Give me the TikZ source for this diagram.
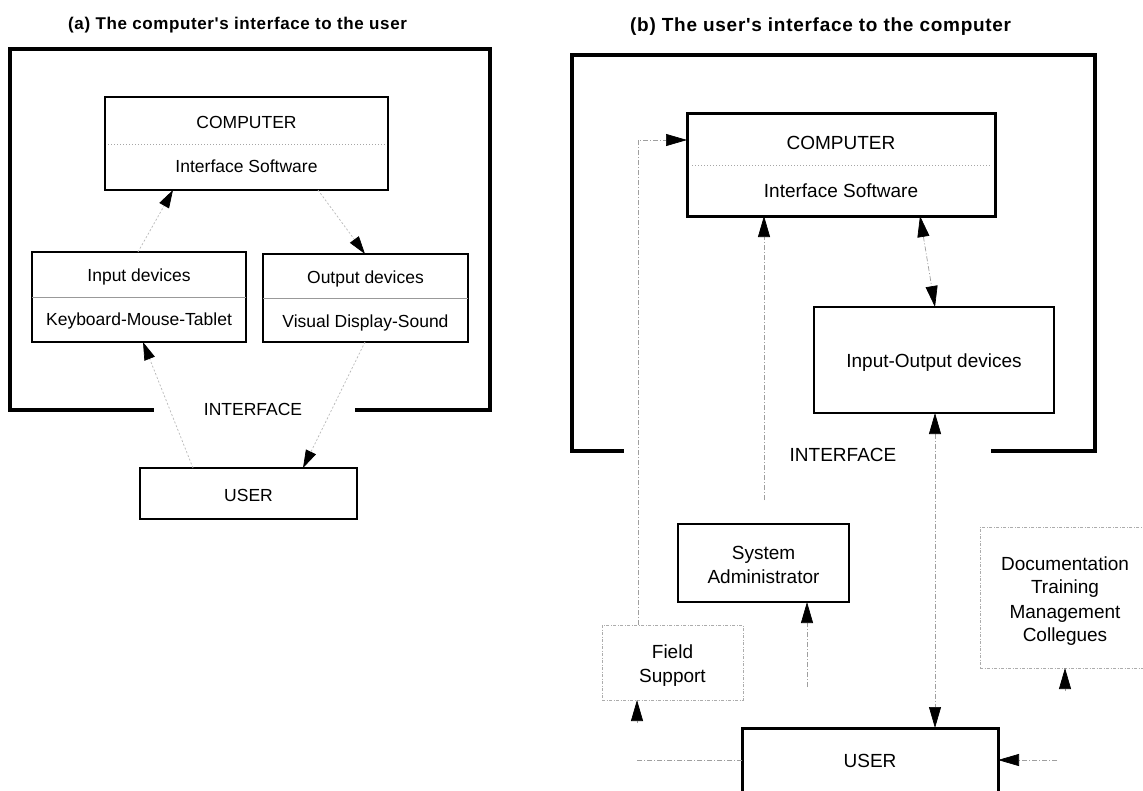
\documentclass[tikz,border=0pt]{standalone}
\usepackage{fontspec}
\setmainfont{Liberation Sans}
\newfontfamily\titlefonta[LetterSpace=3.6]{Liberation Sans}
\newfontfamily\titlefontb[LetterSpace=3.8]{Liberation Sans}
\usetikzlibrary{arrows.meta}
\begin{document}
\begin{tikzpicture}[x=1pt,y=-1pt,
  frame/.style={line width=3.8pt, line join=miter, line cap=rect},
  thickbox/.style={draw, line width=2.8pt, inner sep=0pt, outer sep=0pt},
  thinbox/.style={draw, line width=1.3pt, inner sep=0pt, outer sep=0pt},
  softbox/.style={draw=gray!65, line width=0.8pt, dash pattern=on 3pt off 1.5pt on 1pt off 1.5pt, inner sep=0pt, outer sep=0pt},
  fa/.style={font=\fontsize{17.5}{22}\selectfont, anchor=base, inner sep=0pt},
  fb/.style={font=\fontsize{19}{24}\selectfont, anchor=base, inner sep=0pt},
  ttl/.style={anchor=base west, inner sep=0pt},
  tipa/.style={-{Triangle[length=18pt,width=11pt,color=black]}},
  tipb/.style={-{Triangle[length=21pt,width=12pt,color=black]}},
  tipbb/.style={{Triangle[length=21pt,width=12pt,color=black]}-{Triangle[length=21pt,width=12pt,color=black]}},
  conna/.style={draw=gray!55, line width=0.7pt, dash pattern=on 2pt off 2pt},
  connb/.style={draw=gray!75, line width=0.7pt, dash pattern=on 5pt off 2pt on 1pt off 2pt},
  divdot/.style={draw=gray!70, line width=0.8pt, dash pattern=on 1pt off 2pt},
  divline/.style={draw=gray!80, line width=0.8pt}
]
\useasboundingbox (0,0) rectangle (1143,790);
\fill[white] (0,0) rectangle (1143,790);
\clip (0,0) rectangle (1143,790);

% ---------------- (a) ----------------
\node[ttl, font=\titlefonta\bfseries\fontsize{17}{20}\selectfont] (titleA) at (68,29) {(a) The computer's interface to the user};
\draw[frame] (152,410) -- (10,410) -- (10,49) -- (490,49) -- (490,410) -- (357,410);

\node[thickbox, minimum width=283pt, minimum height=93pt] (compA) at (246.5,143.5) {};
\draw[divdot] (108,144) -- (385,144);
\node[fa] (compAt) at (246.5,128.3) {COMPUTER};
\node[fa] (compAs) at (246.5,172.7) {Interface Software};

\node[thinbox, minimum width=214pt, minimum height=90pt] (inA) at (139,297) {};
\draw[divline] (32,297) -- (246,297);
\node[fa] (inAt) at (139,281.7) {Input devices};
\node[fa] (inAs) at (139,325.7) {Keyboard-Mouse-Tablet};

\node[thinbox, minimum width=205pt, minimum height=88pt] (outA) at (365.5,298) {};
\draw[divline] (263,298) -- (468,298);
\node[fa] (outAt) at (365.5,283) {Output devices};
\node[fa] (outAs) at (365.5,327) {Visual Display-Sound};

\node[fa] (ifA) at (253,415) {INTERFACE};

\node[thickbox, minimum width=217pt, minimum height=51pt] (userA) at (248.5,493.5) {};
\node[fa] (userAt) at (248.5,501.7) {USER};

\draw[conna, tipa] ([xshift=106pt]inA.north west) -- ([xshift=68pt]compA.south west);
\draw[conna, tipa] ([xshift=213pt]compA.south west) -- ([xshift=102pt]outA.north west);
\draw[conna, tipa] ([xshift=53pt]userA.north west) -- ([xshift=111pt]inA.south west);
\draw[conna, tipa] ([xshift=102pt]outA.south west) -- ([xshift=163pt]userA.north west);

% ---------------- (b) ----------------
\node[ttl, font=\titlefontb\bfseries\fontsize{19}{22}\selectfont] (titleB) at (630,31) {(b) The user's interface to the computer};
\draw[frame] (622,451) -- (572,451) -- (572,55) -- (1095,55) -- (1095,451) -- (993,451);

\node[thickbox, line width=3pt, minimum width=308pt, minimum height=103pt] (compB) at (841,164.5) {};
\draw[divdot] (692,165) -- (990,165);
\node[fb] (compBt) at (841,149.3) {COMPUTER};
\node[fb] (compBs) at (841,197.7) {Interface Software};

\node[thinbox, minimum width=240pt, minimum height=106pt] (ioB) at (934,360) {};
\node[fb] (ioBt) at (934,367) {Input-Output devices};

\node[fb] (ifB) at (843,461) {INTERFACE};

\node[thinbox, line width=1.5pt, minimum width=171pt, minimum height=78pt] (adminB) at (763.5,563) {};
\node[fb] (adminB1) at (763.5,559.3) {System};
\node[fb] (adminB2) at (763.5,583.3) {Administrator};

\node[softbox, minimum width=141pt, minimum height=75pt] (fsB) at (672.5,662.5) {};
\node[fb] (fsB1) at (672.5,658.3) {Field};
\node[fb] (fsB2) at (672.5,682.7) {Support};

\node[softbox, minimum width=170pt, minimum height=141pt] (docB) at (1065,597.5) {};
\node[fb] (docB1) at (1065,570) {Documentation};
\node[fb] (docB2) at (1065,593.3) {Training};
\node[fb] (docB3) at (1065,618.3) {Management};
\node[fb] (docB4) at (1065,641.7) {Collegues};

\node[thickbox, line width=3pt, minimum width=256pt, minimum height=64pt] (userB) at (870,760) {};
\node[fb] (userBt) at (870,767.7) {USER};

\draw[connb, tipb] ([xshift=36pt]fsB.north west) |- ([yshift=24.5pt]compB.west);
\draw[connb, tipb, shorten <=24pt] ([xshift=0.5pt]adminB.north) -- ([xshift=77pt]compB.south west);
\draw[connb, tipbb] ([xshift=233pt]compB.south west) -- ([xshift=121pt]ioB.north west);
\draw[connb, tipbb] ([xshift=121pt]ioB.south west) -- ([xshift=193pt]userB.north west);
\draw[connb, tipb, shorten <=41pt] ([xshift=65pt]userB.north west) -- ([xshift=129pt]adminB.south west);

\coordinate (fsC) at (637,760);
\coordinate (fsD) at (637,723);
\draw[connb] (userB.west) -- (fsC);
\draw[connb, tipb] (fsD) -- ([xshift=35pt]fsB.south west);

\coordinate (docC) at (1065,691);
\draw[connb, tipb] (docC) -- (docB.south);

\coordinate (usrC) at (1057,760);
\draw[connb, tipb] (usrC) -- (userB.east);
\end{tikzpicture}
\end{document}
